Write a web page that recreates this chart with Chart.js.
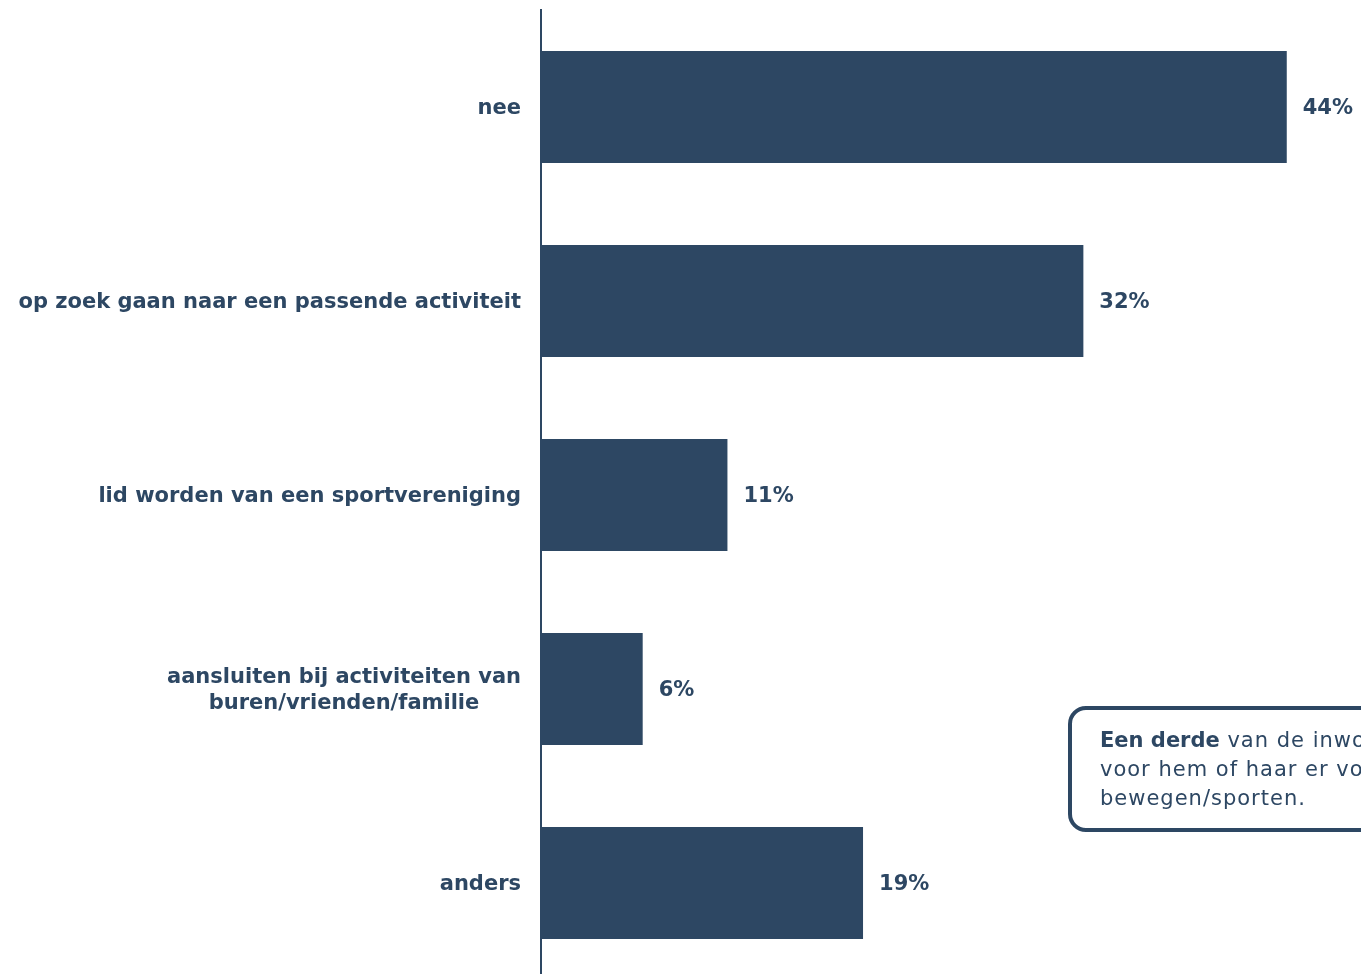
<!DOCTYPE html>
<html>
<head>
<meta charset="utf-8">
<script src="https://cdn.jsdelivr.net/npm/chart.js@4/dist/chart.umd.min.js"></script>
<style>
  html, body { margin: 0; padding: 0; background: #fff; overflow: hidden; width: 1361px; height: 974px; }
  #wrap { position: absolute; left: 0; top: 0; width: 1361px; height: 980px; }
  #note {
    position: absolute; left: 1068px; top: 706px; width: 460px; height: 118px;
    border: 4px solid #2d4763; border-radius: 18px; box-sizing: content-box;
    font-family: 'DejaVu Sans', Verdana, sans-serif; font-size: 21px; line-height: 29px;
    color: #2d4763; padding: 0; white-space: nowrap; letter-spacing: 1px;
  }
  #note b { letter-spacing: 0; }
  #note .txt { position: absolute; left: 28px; top: 16px; }
</style>
</head>
<body>
<div id="wrap"><canvas id="c" width="1361" height="980"></canvas></div>
<div id="note"><div class="txt"><b>Een derde</b> van de inwoners geeft aan dat het<br>voor hem of haar er voor zorgt meer te<br>bewegen/sporten.</div></div>
<script>
// ── Data ──────────────────────────────────────────────
const categories = [
  ['nee'],
  ['op zoek gaan naar een passende activiteit'],
  ['lid worden van een sportvereniging'],
  ['aansluiten bij activiteiten van', 'buren/vrienden/familie'],
  ['anders'],
];
const values = [44, 32, 11, 6, 19];

const NAVY = '#2d4763';
const FONT = "bold 21px 'DejaVu Sans', Verdana, sans-serif";

// labels left of axis (centred lines, right edge at axis - 20) + value labels
const labelPlugin = {
  id: 'labels',
  afterDatasetsDraw(chart) {
    const { ctx, chartArea } = chart;
    const yScale = chart.scales.y;
    const meta = chart.getDatasetMeta(0);
    ctx.save();
    ctx.font = FONT;
    ctx.fillStyle = NAVY;
    ctx.textBaseline = 'middle';
    categories.forEach((lines, i) => {
      const yc = yScale.getPixelForValue(i) + 2;
      const maxW = Math.max(...lines.map(l => ctx.measureText(l).width));
      const cx = chartArea.left - 20 - maxW / 2;
      const lh = 26;
      ctx.textAlign = 'center';
      lines.forEach((l, j) => {
        ctx.fillText(l, cx, yc + (j - (lines.length - 1) / 2) * lh);
      });
      const bar = meta.data[i];
      ctx.textAlign = 'left';
      ctx.fillText(values[i] + '%', bar.x + 16, yc);
    });
    ctx.restore();
  },
};

new Chart(document.getElementById('c'), {
  type: 'bar',
  data: {
    labels: categories.map(c => c.join(' ')),
    datasets: [{
      data: values,
      backgroundColor: NAVY,
      categoryPercentage: 1,
      barPercentage: 0.577,
    }],
  },
  options: {
    indexAxis: 'y',
    responsive: false,
    animation: false,
    layout: { padding: { top: 10, right: 0, bottom: 0, left: 0 } },
    plugins: { legend: { display: false }, tooltip: { enabled: false } },
    scales: {
      x: { display: false, min: 0, max: 48.38 },
      y: {
        grid: { display: false },
        border: { display: true, color: NAVY, width: 2 },
        ticks: { display: false },
        afterFit: s => { s.width = 541; },
      },
    },
  },
  plugins: [labelPlugin],
});
</script>
</body>
</html>
